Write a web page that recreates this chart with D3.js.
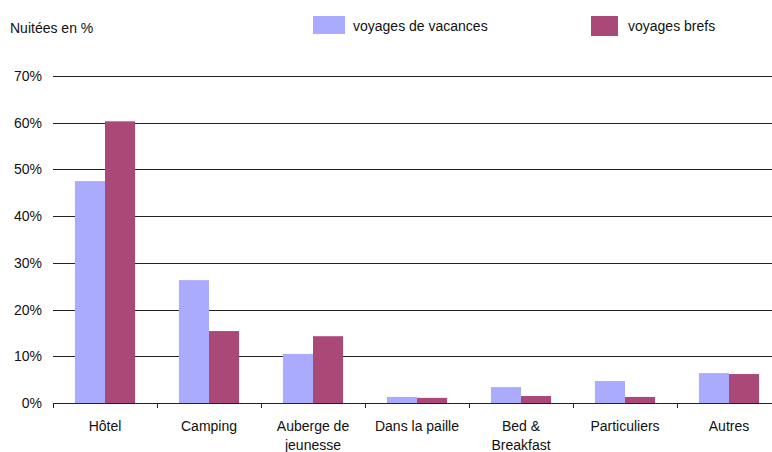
<!DOCTYPE html>
<html>
<head>
<meta charset="utf-8">
<script src="https://cdn.jsdelivr.net/npm/d3@7"></script>
<style>
  body { margin: 0; background: #fff; }
  text { font-family: "Liberation Sans", Arial, sans-serif; fill: #111; }
</style>
</head>
<body>
<div class="workspace"></div>
<script>
const categories = [
  ['Hôtel'],
  ['Camping'],
  ['Auberge de', 'jeunesse'],
  ['Dans la paille'],
  ['Bed &', 'Breakfast'],
  ['Particuliers'],
  ['Autres'],
];
const seriesNames = ['voyages de vacances', 'voyages brefs'];
const vacances = [47.5, 26.3, 10.5, 1.3, 3.4, 4.7, 6.4];
const brefs = [60.3, 15.4, 14.3, 1.1, 1.5, 1.3, 6.2];
const yTicks = [0, 10, 20, 30, 40, 50, 60, 70];
const colors = ['#aaaaff', '#aa4977'];

const width = 772;
const height = 452;
const margin = { left: 53, top: 76, bottom: 403 };
const step = 104;

const svgDom = d3
  .select('.workspace')
  .append('svg')
  .attr('width', width)
  .attr('height', height);

const x = d3
  .scaleBand()
  .domain(d3.range(categories.length))
  .range([margin.left, margin.left + step * categories.length]);

const y = d3.scaleLinear().domain([0, 70]).range([margin.bottom, margin.top]);

const xInner = d3
  .scaleBand()
  .domain([0, 1])
  .range([0, x.bandwidth()])
  .paddingOuter(0.73)
  .paddingInner(0);

// gridlines
svgDom
  .append('g')
  .selectAll('line')
  .data(yTicks)
  .enter()
  .append('line')
  .attr('x1', margin.left)
  .attr('x2', width)
  .attr('y1', (d) => Math.round(y(d)) + 0.5)
  .attr('y2', (d) => Math.round(y(d)) + 0.5)
  .style('stroke', '#222')
  .style('stroke-width', 1);

// y labels
svgDom
  .append('g')
  .selectAll('text')
  .data(yTicks)
  .enter()
  .append('text')
  .attr('x', 42)
  .attr('y', (d) => y(d) + 5)
  .attr('text-anchor', 'end')
  .style('font-size', '14px')
  .text((d) => d + '%');

// bars
const groups = svgDom
  .append('g')
  .selectAll('g')
  .data(categories.map((c, i) => [vacances[i], brefs[i]]))
  .enter()
  .append('g')
  .attr('transform', (d, i) => `translate(${x(i)},0)`);

groups
  .selectAll('rect')
  .data((d) => d)
  .enter()
  .append('rect')
  .attr('x', (d, j) => xInner(j))
  .attr('y', (d) => y(d))
  .attr('width', xInner.bandwidth())
  .attr('height', (d) => y(0) - y(d))
  .style('fill', (d, j) => colors[j]);

// x axis ticks
const tickPos = d3.range(categories.length + 1).map((i) => margin.left + i * step);
svgDom
  .append('g')
  .selectAll('line')
  .data(tickPos)
  .enter()
  .append('line')
  .attr('x1', (d) => Math.round(d) + 0.5)
  .attr('x2', (d) => Math.round(d) + 0.5)
  .attr('y1', margin.bottom)
  .attr('y2', margin.bottom + 5)
  .style('stroke', '#222');

svgDom
  .append('line')
  .attr('x1', margin.left)
  .attr('x2', width)
  .attr('y1', margin.bottom + 0.5)
  .attr('y2', margin.bottom + 0.5)
  .style('stroke', '#222');

// category labels
const labels = svgDom
  .append('g')
  .selectAll('text')
  .data(categories)
  .enter()
  .append('text')
  .attr('x', (d, i) => x(i) + x.bandwidth() / 2)
  .attr('y', 431)
  .attr('text-anchor', 'middle')
  .style('font-size', '14px');

labels
  .selectAll('tspan')
  .data((d) => d)
  .enter()
  .append('tspan')
  .attr('x', function () {
    return d3.select(this.parentNode).attr('x');
  })
  .attr('dy', (d, k) => (k === 0 ? 0 : 19))
  .text((d) => d);

// title
svgDom
  .append('text')
  .attr('x', 10)
  .attr('y', 33)
  .style('font-size', '14px')
  .text('Nuitées en %');

// legend
const legendX = [313, 591];
const legend = svgDom
  .append('g')
  .selectAll('g')
  .data(seriesNames)
  .enter()
  .append('g')
  .attr('transform', (d, i) => `translate(${legendX[i]},16)`);

legend
  .append('rect')
  .attr('width', (d, i) => (i === 0 ? 32 : 27))
  .attr('height', (d, i) => (i === 0 ? 18 : 20))
  .style('fill', (d, i) => colors[i]);

legend
  .append('text')
  .attr('x', (d, i) => (i === 0 ? 40 : 37))
  .attr('y', 15)
  .style('font-size', '14px')
  .text((d) => d);
</script>
</body>
</html>
